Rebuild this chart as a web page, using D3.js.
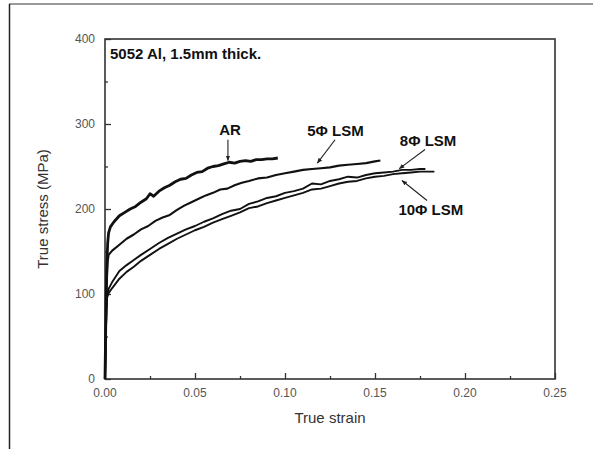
<!DOCTYPE html>
<meta charset="utf-8">

<head>
  <script src="https://d3js.org/d3.v7.min.js"></script>
  <style>
    html,
    body {
      margin: 0;
      padding: 0;
      background: #fff;
    }

    text {
      font-family: "Liberation Sans", Arial, sans-serif;
    }
  </style>
</head>

<body>
  <svg id="chart" width="593" height="449"></svg>
</body>
<script>
  // strain / stress pairs
  const arStrain = [0, 0.0003, 0.0006, 0.001, 0.0015, 0.002, 0.003, 0.005, 0.008, 0.011, 0.014, 0.017, 0.02, 0.023, 0.025, 0.027, 0.030, 0.033, 0.036, 0.039, 0.042, 0.045, 0.048, 0.051, 0.054, 0.057, 0.060, 0.063, 0.066, 0.069, 0.072, 0.075, 0.078, 0.081, 0.084, 0.087, 0.090, 0.093, 0.096]
  const arStress = [0, 45, 95, 135, 160, 172, 179, 185, 192, 196, 200, 203, 208, 212, 218, 215, 221, 225, 228, 232, 235, 236, 240, 243, 244, 248, 250, 251, 253, 255, 254, 256, 257, 256, 258, 258, 259, 259, 260]

  const lsm5Strain = [0, 0.0005, 0.001, 0.0015, 0.002, 0.004, 0.008, 0.012, 0.016, 0.020, 0.024, 0.028, 0.032, 0.036, 0.040, 0.044, 0.048, 0.052, 0.056, 0.060, 0.064, 0.068, 0.072, 0.076, 0.080, 0.085, 0.090, 0.095, 0.100, 0.105, 0.110, 0.115, 0.120, 0.125, 0.130, 0.135, 0.140, 0.145, 0.150, 0.153]
  const lsm5Stress = [0, 60, 115, 138, 146, 151, 158, 165, 170, 176, 180, 186, 190, 193, 199, 204, 208, 212, 216, 219, 223, 224, 228, 231, 233, 236, 237, 240, 242, 244, 246, 247, 248, 249, 251, 252, 253, 254, 256, 257]

  const lsm8Strain = [0, 0.0004, 0.0008, 0.0012, 0.002, 0.004, 0.008, 0.012, 0.016, 0.020, 0.025, 0.030, 0.035, 0.040, 0.045, 0.050, 0.055, 0.060, 0.065, 0.070, 0.075, 0.080, 0.085, 0.090, 0.095, 0.100, 0.105, 0.110, 0.115, 0.120, 0.125, 0.130, 0.135, 0.140, 0.145, 0.150, 0.155, 0.160, 0.165, 0.170, 0.175, 0.178]
  const lsm8Stress = [0, 50, 85, 100, 106, 114, 127, 134, 140, 146, 153, 160, 166, 171, 176, 180, 185, 189, 194, 198, 200, 206, 209, 213, 215, 219, 221, 224, 230, 229, 233, 235, 238, 237, 240, 242, 243, 244, 246, 246, 247, 247]

  const lsm10Strain = [0, 0.0004, 0.0008, 0.0012, 0.002, 0.004, 0.008, 0.012, 0.016, 0.020, 0.025, 0.030, 0.035, 0.040, 0.045, 0.050, 0.055, 0.060, 0.065, 0.070, 0.075, 0.080, 0.085, 0.090, 0.095, 0.100, 0.105, 0.110, 0.115, 0.120, 0.125, 0.130, 0.135, 0.140, 0.145, 0.150, 0.155, 0.160, 0.165, 0.170, 0.175, 0.180, 0.183]
  const lsm10Stress = [0, 45, 80, 96, 101, 107, 118, 126, 132, 139, 146, 153, 159, 165, 170, 175, 179, 184, 188, 192, 196, 201, 203, 207, 210, 213, 216, 219, 223, 224, 227, 230, 232, 233, 236, 238, 239, 241, 242, 243, 244, 244, 244]

  const xTicks = [0, 0.05, 0.10, 0.15, 0.20, 0.25]
  const yTicks = [0, 100, 200, 300, 400]

  // labels: text, label x/y (data), arrow start and end (data)
  const labelText = ["AR", "5\u03A6 LSM", "8\u03A6 LSM", "10\u03A6 LSM"]
  const labelStrain = [0.0695, 0.128, 0.1795, 0.181]
  const labelStress = [287, 286, 274.5, 192.5]
  const arrowFrom = [[0.0683, 281.5], [0.1278, 281.5], [0.1778, 270], [0.1789, 210]]
  const arrowTo = [[0.0683, 257], [0.1180, 254], [0.1635, 247.5], [0.1650, 233.5]]

  const series = [
    { strain: arStrain, stress: arStress, w: 2.8 },
    { strain: lsm5Strain, stress: lsm5Stress, w: 2.1 },
    { strain: lsm8Strain, stress: lsm8Stress, w: 1.9 },
    { strain: lsm10Strain, stress: lsm10Stress, w: 1.9 }
  ]

  let svg = d3.select("#chart")

  let margin = { top: 39, left: 105, right: 38, bottom: 70 }
  let width = 593, height = 449
  let chartWidth = width - margin.left - margin.right
  let chartHeight = height - margin.top - margin.bottom

  // page border (top and left edges only)
  svg.append("line").attr("x1", 9).attr("y1", 4).attr("x2", 593).attr("y2", 4)
    .attr("stroke", "#777").attr("stroke-width", 1.5)
  svg.append("line").attr("x1", 9.5).attr("y1", 4).attr("x2", 9.5).attr("y2", 449)
    .attr("stroke", "#222").attr("stroke-width", 1.5)

  let x = d3.scaleLinear().domain([0, 0.25]).range([0, chartWidth])
  let y = d3.scaleLinear().domain([0, 400]).range([chartHeight, 0])

  let chartLayer = svg.append("g")
    .attr("transform", "translate(" + [margin.left, margin.top] + ")")

  // minor + major ticks pointing inward
  let xAxis = d3.axisBottom(x).tickValues(d3.range(0, 0.2501, 0.025))
    .tickSize(-3).tickFormat("")
  let yAxis = d3.axisLeft(y).tickValues(d3.range(0, 401, 50))
    .tickSize(-3).tickFormat("")

  let gx = chartLayer.append("g").attr("transform", "translate(0," + chartHeight + ")").call(xAxis)
  let gy = chartLayer.append("g").call(yAxis)
  gx.select(".domain").remove()
  gy.select(".domain").remove()
  gx.selectAll(".tick line").attr("stroke", "#333").attr("stroke-width", 1.3)
    .attr("y2", (d, i) => i % 2 == 0 ? -6 : -3)
  gy.selectAll(".tick line").attr("stroke", "#333").attr("stroke-width", 1.3)
    .attr("x2", (d, i) => i % 2 == 0 ? 6 : 3)

  chartLayer.selectAll(".xlab").data(xTicks).enter().append("text")
    .attr("x", d => x(d)).attr("y", chartHeight + 18)
    .attr("text-anchor", "middle").attr("font-size", 12).attr("fill", "#555")
    .text(d => d3.format(".2f")(d))

  chartLayer.selectAll(".ylab").data(yTicks).enter().append("text")
    .attr("x", -10).attr("y", d => y(d) + 4)
    .attr("text-anchor", "end").attr("font-size", 12).attr("fill", "#555")
    .text(d => d)

  // frame
  chartLayer.append("rect").attr("width", chartWidth).attr("height", chartHeight)
    .attr("fill", "none").attr("stroke", "#333").attr("stroke-width", 1.6)

  let line = d3.line().x(d => x(d[0])).y(d => y(d[1]))

  chartLayer.selectAll(".curve").data(series).enter().append("path")
    .attr("d", d => line(d.strain.map((s, i) => [s, d.stress[i]])))
    .attr("fill", "none").attr("stroke", "#111")
    .attr("stroke-width", d => d.w).attr("stroke-linejoin", "round")

  // annotations
  svg.append("defs").append("marker")
    .attr("id", "head").attr("viewBox", "0 0 10 10").attr("refX", 9).attr("refY", 5)
    .attr("markerWidth", 5).attr("markerHeight", 5).attr("orient", "auto")
    .append("path").attr("d", "M0,1 L10,5 L0,9 Z").attr("fill", "#222")

  chartLayer.selectAll(".arrow").data(labelText).enter().append("line")
    .attr("x1", (d, i) => x(arrowFrom[i][0])).attr("y1", (d, i) => y(arrowFrom[i][1]))
    .attr("x2", (d, i) => x(arrowTo[i][0])).attr("y2", (d, i) => y(arrowTo[i][1]))
    .attr("stroke", "#222").attr("stroke-width", 1.1).attr("marker-end", "url(#head)")

  chartLayer.selectAll(".lbl").data(labelText).enter().append("text")
    .attr("x", (d, i) => x(labelStrain[i])).attr("y", (d, i) => y(labelStress[i]))
    .attr("text-anchor", "middle").attr("font-size", 15).attr("font-weight", "bold")
    .attr("fill", "#111").text(d => d)

  chartLayer.append("text").attr("x", 5).attr("y", 20)
    .attr("font-size", 15).attr("font-weight", "bold").attr("fill", "#111")
    .text("5052 Al, 1.5mm thick.")

  // axis titles
  chartLayer.append("text").attr("x", chartWidth / 2).attr("y", chartHeight + 44)
    .attr("text-anchor", "middle").attr("font-size", 15).attr("fill", "#333")
    .text("True strain")

  chartLayer.append("text")
    .attr("transform", "translate(" + [-57, chartHeight / 2] + ") rotate(-90)")
    .attr("text-anchor", "middle").attr("font-size", 15).attr("fill", "#333")
    .text("True stress (MPa)")
</script>
